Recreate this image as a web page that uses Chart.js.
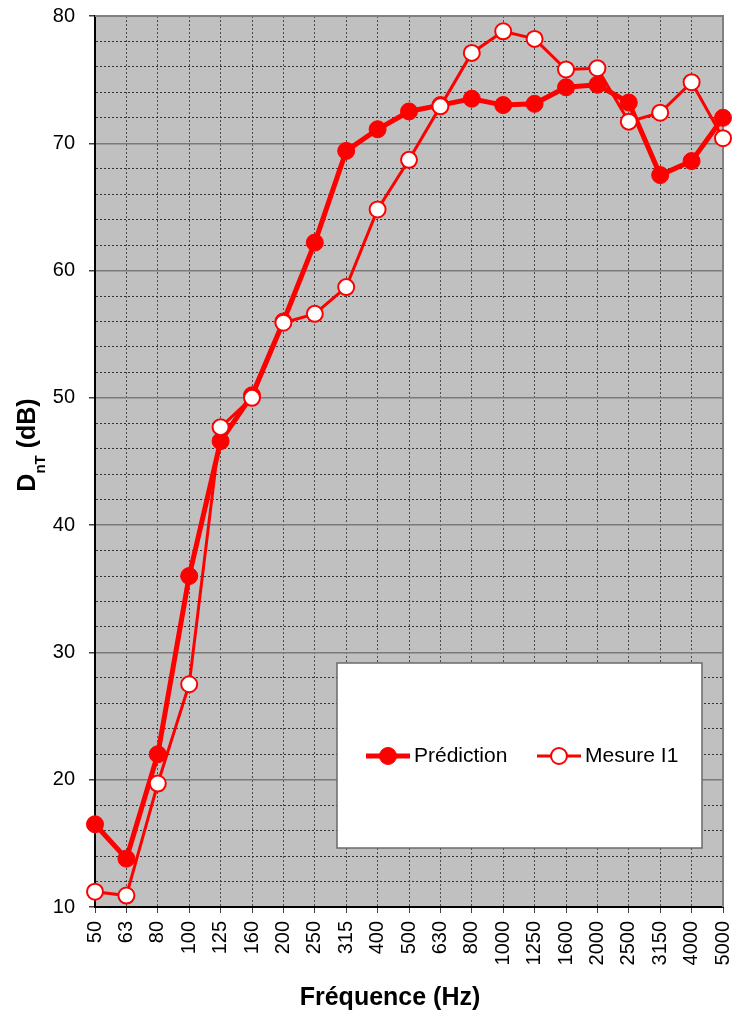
<!DOCTYPE html>
<html>
<head>
<meta charset="utf-8">
<script src="https://cdn.jsdelivr.net/npm/chart.js@4/dist/chart.umd.min.js"></script>
<style>
    body { margin: 0; background: #fff; }
    #wrap { width: 733px; height: 1014px; }
</style>
</head>
<body>
<div id="wrap"><canvas id="myChart" width="733" height="1014"></canvas></div>
<script>
const frequencies = ['50', '63', '80', '100', '125', '160', '200', '250', '315', '400', '500',
    '630', '800', '1000', '1250', '1600', '2000', '2500', '3150', '4000', '5000'];
const prediction = [16.5, 13.8, 22.0, 36.0, 46.6, 50.2, 56.0, 62.2, 69.4, 71.1, 72.5,
    73.0, 73.5, 73.0, 73.1, 74.4, 74.6, 73.2, 67.5, 68.6, 72.0];
const mesureI1 = [11.2, 10.9, 19.7, 27.5, 47.7, 50.0, 55.9, 56.6, 58.7, 64.8, 68.7,
    72.9, 77.1, 78.8, 78.2, 75.8, 75.9, 71.7, 72.4, 74.8, 70.4];
const yMin = 10;
const yMax = 80;

const FONT = "'Liberation Sans', Arial, sans-serif";
const RED = '#ff0000';

/**
 * Grey plot background and frame
 */
const plotArea = {
    id: 'plotArea',
    beforeDraw(chart) {
        let ctx = chart.ctx;
        let a = chart.chartArea;
        ctx.save();
        ctx.fillStyle = '#fff';
        ctx.fillRect(0, 0, chart.width, chart.height);
        ctx.fillStyle = '#c0c0c0';
        ctx.fillRect(a.left, a.top, a.right - a.left, a.bottom - a.top);
        ctx.restore();
    },
    beforeDatasetsDraw(chart) {
        let ctx = chart.ctx;
        let a = chart.chartArea;
        ctx.save();
        ctx.strokeStyle = '#808080';
        ctx.lineWidth = 2;
        ctx.beginPath();
        ctx.moveTo(a.left, a.top);
        ctx.lineTo(a.right, a.top);
        ctx.lineTo(a.right, a.bottom);
        ctx.stroke();
        ctx.restore();
    }
};

/**
 * Axis titles (with subscript) and the boxed legend inside the plot
 */
const annotations = {
    id: 'annotations',
    afterDraw(chart) {
        let ctx = chart.ctx;
        ctx.save();
        ctx.fillStyle = '#000';

        // x title
        ctx.font = 'bold 25px ' + FONT;
        ctx.textAlign = 'center';
        ctx.textBaseline = 'middle';
        ctx.fillText('Fréquence (Hz)', 390, 998);

        // y title : D + subscript nT + (dB)
        ctx.translate(25, 445);
        ctx.rotate(-Math.PI / 2);
        ctx.textAlign = 'left';
        ctx.textBaseline = 'alphabetic';
        let big = 'bold 25px ' + FONT;
        let small = 'bold 15px ' + FONT;
        ctx.font = big;
        let wD = ctx.measureText('D').width;
        let wRest = ctx.measureText(' (dB)').width;
        ctx.font = small;
        let wSub = ctx.measureText('nT').width;
        let x = -(wD + wSub + wRest) / 2;
        ctx.font = big;
        ctx.fillText('D', x, 10);
        ctx.font = small;
        ctx.fillText('nT', x + wD, 20);
        ctx.font = big;
        ctx.fillText(' (dB)', x + wD + wSub, 10);
        ctx.restore();

        // legend box
        ctx.save();
        ctx.fillStyle = '#fff';
        ctx.fillRect(337, 663, 365, 185);
        ctx.strokeStyle = '#6a6a6a';
        ctx.lineWidth = 1.5;
        ctx.strokeRect(337, 663, 365, 185);

        let items = [
            { x: 366, ds: chart.data.datasets[0] },
            { x: 537, ds: chart.data.datasets[1] }
        ];
        let y = 756;
        for (let item of items) {
            let ds = item.ds;
            ctx.strokeStyle = ds.borderColor;
            ctx.lineWidth = ds.borderWidth;
            ctx.beginPath();
            ctx.moveTo(item.x, y);
            ctx.lineTo(item.x + 44, y);
            ctx.stroke();

            ctx.beginPath();
            ctx.arc(item.x + 22, y, ds.pointRadius, 0, Math.PI * 2);
            ctx.fillStyle = ds.pointBackgroundColor;
            ctx.fill();
            ctx.lineWidth = ds.pointBorderWidth;
            ctx.strokeStyle = ds.pointBorderColor;
            ctx.stroke();

            ctx.fillStyle = '#000';
            ctx.font = '21px ' + FONT;
            ctx.textAlign = 'left';
            ctx.textBaseline = 'middle';
            ctx.fillText(ds.label, item.x + 48, y);
        }
        ctx.restore();
    }
};

function isMajor(context) {
    return context.tick && context.tick.value % 10 === 0;
}

function initGraph() {
    let data = {
        labels: frequencies,
        datasets: [{
            label: 'Prédiction',
            data: prediction,
            borderColor: RED,
            borderWidth: 5,
            pointRadius: 8.5,
            pointBackgroundColor: RED,
            pointBorderColor: RED,
            pointBorderWidth: 1,
            tension: 0,
            clip: false,
            order: 1
        }, {
            label: 'Mesure I1',
            data: mesureI1,
            borderColor: RED,
            borderWidth: 3,
            pointRadius: 8,
            pointBackgroundColor: '#fff',
            pointBorderColor: RED,
            pointBorderWidth: 2,
            tension: 0,
            clip: false,
            order: 0
        }]
    };

    let options = {
        responsive: false,
        animation: false,
        events: [],
        layout: {
            padding: { left: 0, right: 9, top: 16, bottom: 0 }
        },
        plugins: {
            legend: { display: false },
            tooltip: { enabled: false }
        },
        scales: {
            x: {
                offset: false,
                afterFit(scale) {
                    scale.height = 107;
                    scale.paddingLeft = 0;
                    scale.paddingRight = 0;
                },
                grid: {
                    color: '#4a4a4a',
                    lineWidth: 1,
                    tickColor: '#404040',
                    tickLength: 6
                },
                border: {
                    color: '#000',
                    width: 2,
                    dash: (c) => c.tick ? [2, 2] : []
                },
                ticks: {
                    autoSkip: false,
                    minRotation: 90,
                    maxRotation: 90,
                    padding: 8,
                    color: '#000',
                    font: { family: FONT, size: 20 }
                }
            },
            y: {
                min: yMin,
                max: yMax,
                afterFit(scale) {
                    scale.width = 95;
                    scale.paddingTop = 0;
                    scale.paddingBottom = 0;
                },
                grid: {
                    color: (c) => isMajor(c) ? '#7a7a7a' : '#333',
                    lineWidth: (c) => isMajor(c) ? 1.5 : 1,
                    tickColor: (c) => isMajor(c) ? '#404040' : 'rgba(0,0,0,0)',
                    tickLength: 6
                },
                border: {
                    color: '#000',
                    width: 2,
                    dash: (c) => (!c.tick || isMajor(c)) ? [] : [2, 2]
                },
                ticks: {
                    stepSize: 2,
                    autoSkip: false,
                    padding: 14,
                    color: '#000',
                    font: { family: FONT, size: 20 },
                    callback: (v) => v % 10 === 0 ? v : ''
                }
            }
        }
    };

    let ctx = document.getElementById('myChart').getContext('2d');
    new Chart(ctx, {
        type: 'line',
        data: data,
        options: options,
        plugins: [plotArea, annotations]
    });
}

initGraph();
</script>
</body>
</html>
